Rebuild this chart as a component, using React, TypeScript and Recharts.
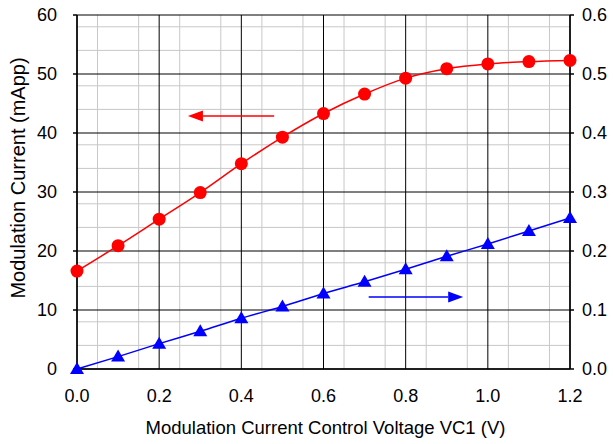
import React from 'react'
import {
  ComposedChart,
  Line,
  XAxis,
  YAxis,
  CartesianGrid,
  ReferenceLine,
} from 'recharts'

// control voltage VC1 (V)
const voltages = [0, 0.1, 0.2, 0.3, 0.4, 0.5, 0.6, 0.7, 0.8, 0.9, 1.0, 1.1, 1.2]
// modulation current, left axis (mApp)
const currentMA = [16.6, 20.9, 25.4, 29.9, 34.8, 39.3, 43.3, 46.6, 49.3, 50.9, 51.7, 52.1, 52.3]
// right axis series
const rightValues = [0.0, 0.021, 0.043, 0.064, 0.086, 0.106, 0.128, 0.148, 0.169, 0.191, 0.212, 0.234, 0.256]

const xTicks = [0, 0.2, 0.4, 0.6, 0.8, 1.0, 1.2]
const leftTicks = [0, 10, 20, 30, 40, 50, 60]
const rightTicks = [0, 0.1, 0.2, 0.3, 0.4, 0.5, 0.6]
const xMinor = [0.05, 0.1, 0.15, 0.25, 0.3, 0.35, 0.45, 0.5, 0.55, 0.65, 0.7, 0.75, 0.85, 0.9, 0.95, 1.05, 1.1, 1.15]
const yMinor = [2, 4, 6, 8, 12, 14, 16, 18, 22, 24, 26, 28, 32, 34, 36, 38, 42, 44, 46, 48, 52, 54, 56, 58]

// direction arrows (from -> to, left axis units)
const redArrow = [{ x: 0.48, y: 42.9 }, { x: 0.27, y: 42.9 }]
const blueArrow = [{ x: 0.71, y: 12.2 }, { x: 0.94, y: 12.2 }]

const RED = '#ff0000'
const BLUE = '#0000ff'
const FONT = '"Liberation Sans", Arial, sans-serif'

const data = voltages.map((v, i) => ({ v, cur: currentMA[i], right: rightValues[i] }))

function Triangle(props: any) {
  const { cx, cy } = props
  if (cx == null || cy == null) return null
  return (
    <polygon
      points={`${cx},${cy - 7} ${cx - 7},${cy + 5} ${cx + 7},${cy + 5}`}
      fill={BLUE}
    />
  )
}

function makeArrow(color: string) {
  return function Arrow(props: any) {
    const { x1, y1, x2, y2 } = props
    if (x1 == null) return null
    const dir = x2 > x1 ? 1 : -1
    const headLen = 15
    const baseX = x2 - dir * headLen
    return (
      <g>
        <line x1={x1} y1={y1} x2={baseX} y2={y2} stroke={color} strokeWidth={1.5} />
        <polygon points={`${x2},${y2} ${baseX},${y2 - 5.5} ${baseX},${y2 + 5.5}`} fill={color} />
      </g>
    )
  }
}

function YTitle(props: any) {
  const vb = props.viewBox || {}
  const x = (vb.x ?? 0) + 25
  const y = (vb.y ?? 0) + vb.height / 2 - 14
  return (
    <text
      x={x}
      y={y}
      transform={`rotate(-90 ${x} ${y})`}
      textAnchor="middle"
      fontSize={20}
      fill="#000"
      fontFamily={FONT}
    >
      Modulation Current (mApp)
    </text>
  )
}

function XTitle(props: any) {
  const vb = props.viewBox || {}
  const x = (vb.x ?? 0) + vb.width / 2 + 2
  const y = (vb.y ?? 0) + 65
  return (
    <text x={x} y={y} textAnchor="middle" fontSize={18.5} fill="#000" fontFamily={FONT}>
      Modulation Current Control Voltage VC1 (V)
    </text>
  )
}

export default function App() {
  return (
    <div style={{ position: 'absolute', left: 0, top: 0, background: '#fff', fontFamily: FONT }}>
      <ComposedChart
        width={613}
        height={444}
        data={data}
        margin={{ top: 15, right: 0, bottom: 0, left: 0 }}
      >
        <CartesianGrid
          stroke="#c8c8c8"
          strokeWidth={1}
          horizontalValues={yMinor}
          verticalValues={xMinor}
          yAxisId="left"
        />
        <CartesianGrid
          stroke="#000"
          strokeWidth={1}
          horizontalValues={leftTicks}
          verticalValues={xTicks}
          yAxisId="left"
        />
        <XAxis
          dataKey="v"
          type="number"
          domain={[0, 1.2]}
          ticks={xTicks}
          tickFormatter={(t: number) => t.toFixed(1)}
          tick={{ fontSize: 18, fill: '#000', fontFamily: FONT }}
          stroke="#000"
          strokeWidth={1.5}
          tickSize={0}
          tickMargin={20}
          height={75}
          label={<XTitle />}
        />
        <YAxis
          yAxisId="left"
          domain={[0, 60]}
          ticks={leftTicks}
          tick={{ fontSize: 18, fill: '#000', fontFamily: FONT }}
          stroke="#000"
          strokeWidth={1.5}
          tickSize={4}
          tickMargin={16}
          width={77}
          label={<YTitle />}
        />
        <YAxis
          yAxisId="right"
          orientation="right"
          domain={[0, 0.6]}
          ticks={rightTicks}
          tickFormatter={(t: number) => t.toFixed(1)}
          tick={{ fontSize: 18, fill: '#000', fontFamily: FONT, textAnchor: 'start' }}
          stroke="#000"
          strokeWidth={1.5}
          tickSize={4}
          tickMargin={8}
          width={43}
        />
        <ReferenceLine yAxisId="left" segment={redArrow} shape={makeArrow(RED)} ifOverflow="visible" />
        <ReferenceLine yAxisId="left" segment={blueArrow} shape={makeArrow(BLUE)} ifOverflow="visible" />
        <Line
          yAxisId="left"
          dataKey="cur"
          type="monotone"
          stroke={RED}
          strokeWidth={1.5}
          dot={{ r: 6.5, fill: RED, stroke: RED, strokeWidth: 0 }}
          isAnimationActive={false}
        />
        <Line
          yAxisId="right"
          dataKey="right"
          type="monotone"
          stroke={BLUE}
          strokeWidth={1.5}
          dot={<Triangle />}
          isAnimationActive={false}
        />
      </ComposedChart>
    </div>
  )
}
